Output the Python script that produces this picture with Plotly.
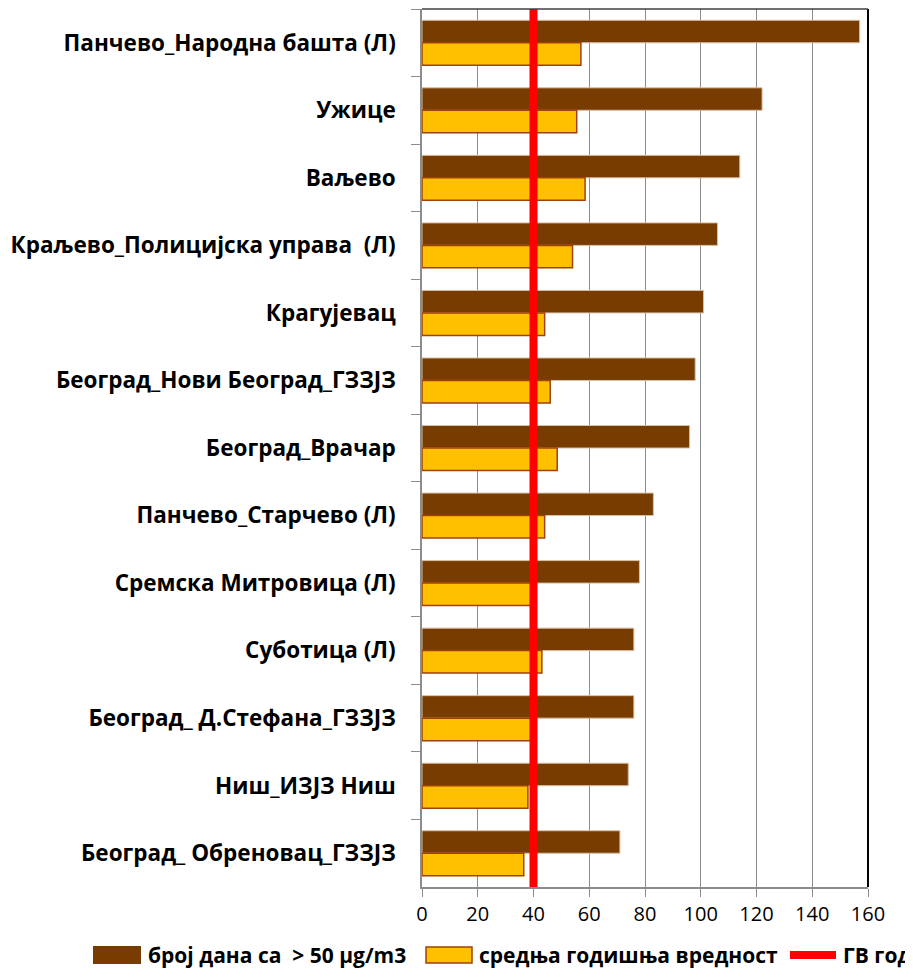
import plotly.graph_objects as go

stations = [
    "Панчево_Народна башта (Л)",
    "Ужице",
    "Ваљево",
    "Краљево_Полицијска управа  (Л)",
    "Крагујевац",
    "Београд_Нови Београд_ГЗЗЈЗ",
    "Београд_Врачар",
    "Панчево_Старчево (Л)",
    "Сремска Митровица (Л)",
    "Суботица (Л)",
    "Београд_ Д.Стефана_ГЗЗЈЗ",
    "Ниш_ИЗЈЗ Ниш",
    "Београд_ Обреновац_ГЗЗЈЗ",
]
days_over_50 = [157, 122, 114, 106, 101, 98, 96, 83, 78, 76, 76, 74, 71]
annual_mean = [57, 55.5, 58.5, 54, 44, 46, 48.5, 44, 39, 43, 39, 38, 36.5]
limit_value = 40
x_ticks = [0, 20, 40, 60, 80, 100, 120, 140, 160]
legend_names = ["број дана са  > 50 μg/m3", "средња годишња вредност", "ГВ год"]

brown = "#783C00"
yellow = "#FFC000"
yellow_edge = "#A0400A"
red = "#FF0000"
FONT = "Open Sans, Lato, sans-serif"

# page body has an 8px margin, so the figure is drawn at (8, 8)
OFF = 8
FIG_W, FIG_H = 913 - OFF, 978 - OFF
L, R, T, B = 422 - OFF, 868 - OFF, 9 - OFF, 887 - OFF   # plot area in figure px

fig = go.Figure()
fig.add_trace(go.Bar(
    y=stations, x=days_over_50, orientation="h", name=legend_names[0],
    marker=dict(color=brown, line=dict(color="#D8C0A8", width=1)),
))
fig.add_trace(go.Bar(
    y=stations, x=annual_mean, orientation="h", name=legend_names[1],
    marker=dict(color=yellow, line=dict(color=yellow_edge, width=1.5)),
))
fig.add_trace(go.Scatter(
    x=[limit_value, limit_value], y=[0, 1], yaxis="y2", mode="lines",
    name=legend_names[2], line=dict(color=red, width=8),
))

W, H = float(R - L), float(B - T)
def px(x):   # page px -> paper
    return (x - OFF - L) / W
def py(y):
    return (B - (y - OFF)) / H

legend_y = 955
shapes = [
    dict(type="line", xref="paper", yref="paper", x0=1, x1=1, y0=0, y1=1,
         line=dict(color="black", width=2)),
    dict(type="line", xref="paper", yref="paper", x0=0, x1=1, y0=1, y1=1,
         line=dict(color="#404040", width=1.5)),
    dict(type="rect", xref="paper", yref="paper", x0=px(93), x1=px(141),
         y0=py(legend_y + 9), y1=py(legend_y - 9), fillcolor=brown, line=dict(width=0)),
    dict(type="rect", xref="paper", yref="paper", x0=px(426), x1=px(472),
         y0=py(legend_y + 8), y1=py(legend_y - 8), fillcolor=yellow,
         line=dict(color=yellow_edge, width=1.5)),
    dict(type="line", xref="paper", yref="paper", x0=px(790), x1=px(836),
         y0=py(legend_y), y1=py(legend_y), line=dict(color=red, width=8)),
]
annotations = []
for xpos, txt in zip([146, 477, 841], legend_names):
    annotations.append(dict(
        xref="paper", yref="paper", x=px(xpos), y=py(legend_y), xanchor="left",
        yanchor="middle", text="<b>" + txt + "</b>", showarrow=False,
        font=dict(family=FONT, size=21, color="black")))

fig.update_layout(
    width=FIG_W, height=FIG_H,
    margin=dict(l=L, r=FIG_W - R, t=T, b=FIG_H - B, autoexpand=False),
    plot_bgcolor="white", paper_bgcolor="white",
    barmode="group", bargap=0.334, bargroupgap=0,
    showlegend=False,
    xaxis=dict(range=[0, 160], tickvals=x_ticks, showgrid=True, gridcolor="#8C8C8C",
               gridwidth=1, zeroline=False, showline=True, linecolor="#8C8C8C",
               linewidth=1.5, ticks="outside", ticklen=8, tickcolor="#8C8C8C",
               automargin=False,
               tickfont=dict(family=FONT, size=20, color="black")),
    yaxis=dict(autorange="reversed", showline=True, linecolor="#8C8C8C", linewidth=1.5,
               ticks="outside", ticklen=9, tickcolor="#8C8C8C", tickson="boundaries",
               automargin=False, ticklabelstandoff=20,
               tickfont=dict(family=FONT, size=22.5, color="black"),
               tickprefix="<b>", ticksuffix="</b>"),
    yaxis2=dict(overlaying="y", range=[0, 1], visible=False),
    shapes=shapes,
    annotations=annotations,
)

fig.write_html("out.html")
